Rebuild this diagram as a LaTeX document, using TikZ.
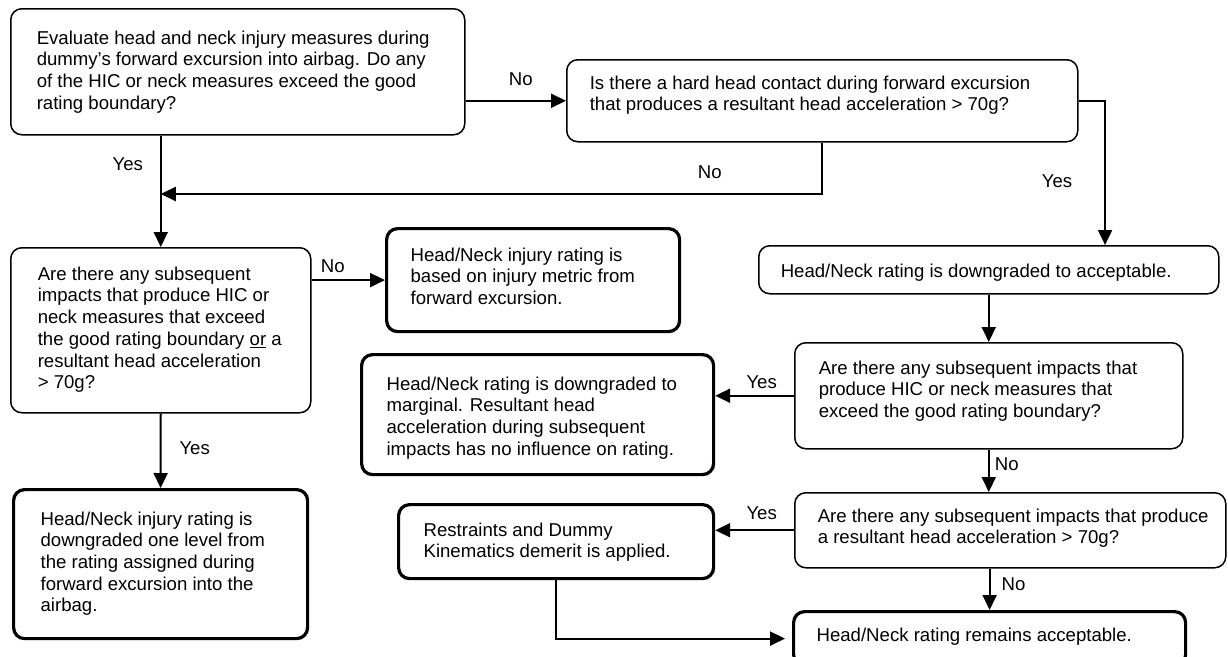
\documentclass[tikz,border=0pt]{standalone}
\usepackage{fontspec}
\setmainfont{Liberation Sans}
\usetikzlibrary{arrows.meta,calc}
\newcommand\bt[5]{\parbox[c][#2pt][t]{#1pt}{\raggedright\leftskip=#3pt\relax\rule{0pt}{#4pt}#5}}
\begin{document}
\begin{tikzpicture}[x=1pt,y=-1pt,
  every node/.style={font=\fontsize{18.6}{21.7}\selectfont},
  thinbox/.style={draw, line width=1.5pt, rounded corners=11pt, anchor=north west, inner sep=0pt},
  thickbox/.style={thinbox, line width=3.2pt},
  arr/.style={line width=2pt, -{Triangle[length=15pt,width=14pt]}},
  lbl/.style={inner sep=0pt}
]
\useasboundingbox (0,0) rectangle (1228,656);

\node[thinbox] (A) at (10,8) {\bt{454}{126}{26}{35.5}{Evaluate head and neck injury measures during\\dummy’s forward excursion into airbag. Do any\\of the HIC or neck measures exceed the good\\rating boundary?}};
\node[thinbox] (B) at (566,59) {\bt{511}{82}{23}{29.5}{Is there a hard head contact during forward excursion\\that produces a resultant head acceleration > 70g?}};
\node[thinbox] (C) at (10,247) {\bt{300}{165}{27}{32.5}{Are there any subsequent\\impacts that produce HIC or\\neck measures that exceed\\the good rating boundary \underline{or} a\\resultant head acceleration\\> 70g?}};
\node[thinbox] (D) at (758,245) {\bt{460}{48}{22}{31.5}{Head/Neck rating is downgraded to acceptable.}};
\node[thickbox] (E) at (12,488) {\bt{294}{149}{27}{35.5}{Head/Neck injury rating is\\downgraded one level from\\the rating assigned during\\forward excursion into the\\airbag.}};
\node[thickbox] (F) at (385,227) {\bt{293}{103}{24}{32.5}{Head/Neck injury rating is\\based on injury metric from\\forward excursion.}};
\node[thickbox] (G) at (360,353) {\bt{352}{120}{25}{35.5}{Head/Neck rating is downgraded to\\marginal. Resultant head\\acceleration during subsequent\\impacts has no influence on rating.}};
\node[thickbox] (H) at (397,503) {\bt{315}{74}{25}{31.5}{Restraints and Dummy\\Kinematics demerit is applied.}};
\node[thinbox] (J) at (794,342) {\bt{388}{106}{24}{31.5}{Are there any subsequent impacts that\\produce HIC or neck measures that\\exceed the good rating boundary?}};
\node[thinbox] (K) at (794,492) {\bt{431}{75}{23}{29.5}{Are there any subsequent impacts that produce\\a resultant head acceleration > 70g?}};
\node[thickbox] (L) at (792,610) {\bt{392}{54}{23}{29.5}{Head/Neck rating remains acceptable.}};

\coordinate (yj) at (0,194);
\coordinate (j) at (C.north |- yj);
\coordinate (Dtop) at ($(D.north west)!0.752!(D.north east)$);

\draw[arr] (A.east |- B.west) -- (B.west) node[lbl, pos=0.55, yshift=22pt]{No};
\draw[arr] (B.south) |- (j) node[lbl, pos=0.585, yshift=22pt]{No};
\draw[arr] (A.south -| C.north) -- (C.north) node[lbl, pos=0.26, xshift=-33pt]{Yes};
\draw[arr] (B.east) -| (Dtop) node[lbl, pos=0.78, xshift=-48pt]{Yes};
\draw[arr] (C.east |- F.west) -- (F.west) node[lbl, pos=0.29, yshift=14pt]{No};
\draw[arr] (C.south) -- (E.north) node[lbl, pos=0.47, xshift=34pt]{Yes};
\draw[arr] (D.south) -- (J.north);
\draw[arr] (J.west) -- (J.west -| G.east) node[lbl, pos=0.41, yshift=14pt]{Yes};
\draw[arr] (J.south) -- (J.south |- K.north) node[lbl, pos=0.34, xshift=18pt]{No};
\draw[arr] (K.west) -- (K.west -| H.east) node[lbl, pos=0.41, yshift=17pt]{Yes};
\draw[arr] (L.north |- K.south) -- (L.north) node[lbl, pos=0.37, xshift=24pt]{No};
\draw[arr, shorten >=7pt] (H.south) |- (L.west);
\end{tikzpicture}
\end{document}
